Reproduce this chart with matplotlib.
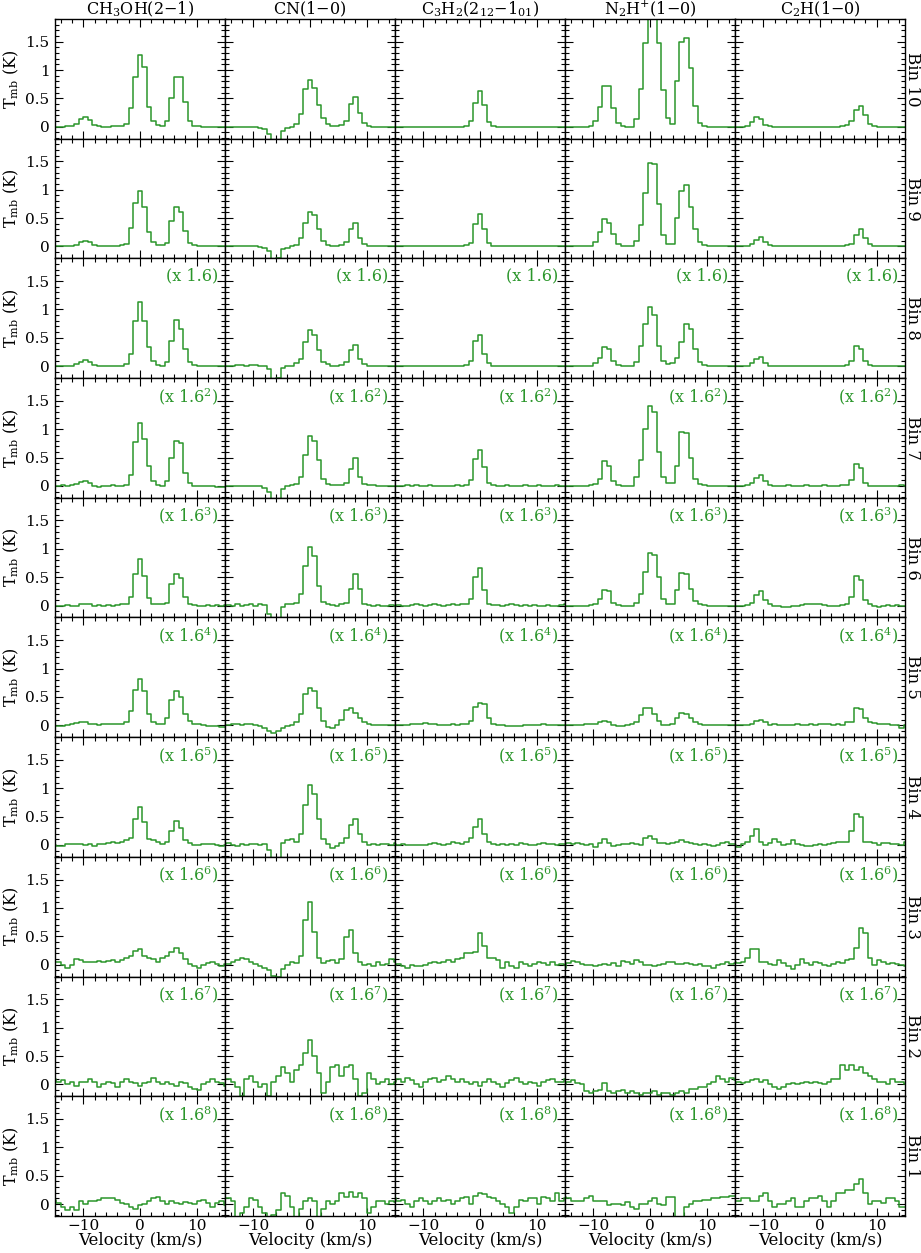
import numpy as np
import matplotlib
matplotlib.use('Agg')
import matplotlib.pyplot as plt
from matplotlib.ticker import MultipleLocator, FuncFormatter

# ---------------- data ----------------
v_start = -15.2   # centre of first channel (km/s)
dv = 0.8          # channel width (km/s)
n_chan = 39

molecules = [r'CH$_3$OH(2$-$1)', r'CN(1$-$0)', r'C$_3$H$_2$(2$_{12}$$-$1$_{01}$)',
             r'N$_2$H$^{+}$(1$-$0)', r'C$_2$H(1$-$0)']
bin_labels = ['Bin 10', 'Bin 9', 'Bin 8', 'Bin 7', 'Bin 6', 'Bin 5', 'Bin 4', 'Bin 3', 'Bin 2', 'Bin 1']
scale_powers = [0, 0, 1, 2, 3, 4, 5, 6, 7, 8]
scale_base = '1.6'

# CH3OH(2-1)
ch3oh_b10 = [0.0,0.0,0.0,0.01,0.02, 0.05,0.14,0.17,0.12,0.04, 0.01,0.0,0.0,0.01,0.01, 0.02,0.05,0.33,0.87,1.27, 1.05,0.35,0.1,0.03,0.02, 0.1,0.5,0.87,0.87,0.44, 0.1,0.02,0.01,0.0,0.0, 0.0,0.0,0.0,0.0]
ch3oh_b9 = [0.0,0.0,0.0,0.0,0.01, 0.03,0.08,0.1,0.08,0.03, 0.01,0.0,0.0,0.01,0.01, 0.02,0.05,0.33,0.76,0.98, 0.69,0.25,0.08,0.03,0.02, 0.06,0.45,0.7,0.6,0.28, 0.07,0.02,0.01,0.0,0.0, 0.0,0.0,0.0,0.0]
ch3oh_b8 = [0.0,0.0,0.0,0.0,0.01, 0.03,0.07,0.11,0.07,0.02, 0.01,0.0,0.0,0.0,0.01, 0.01,0.03,0.22,0.79,1.14, 0.79,0.33,0.1,0.02,0.01, 0.08,0.45,0.82,0.65,0.3, 0.08,0.02,0.01,0.0,0.0, 0.0,0.0,0.0,0.0]
ch3oh_b7 = [0.0,0.0,0.01,0.0,0.01, 0.03,0.06,0.08,0.05,0.0, -0.02,-0.01,0.0,0.01,0.0, -0.01,0.02,0.2,0.78,1.1, 0.82,0.35,0.08,0.01,0.0, 0.08,0.5,0.8,0.75,0.22, 0.05,0.0,0.0,-0.01,-0.01, -0.01,-0.02,-0.02,-0.02]
ch3oh_b6 = [0.0,-0.01,0.0,0.01,-0.01, 0.0,0.02,0.03,0.02,0.0, 0.01,0.0,0.01,0.0,0.01, 0.02,0.03,0.15,0.55,0.82, 0.53,0.13,0.03,0.02,0.02, 0.05,0.38,0.55,0.48,0.15, 0.03,0.01,0.0,0.0,0.01, 0.0,0.01,0.0,0.01]
ch3oh_b5 = [-0.01,-0.02,-0.01,0.0,0.02, 0.04,0.06,0.05,0.03,0.02, 0.01,0.02,0.03,0.02,0.03, 0.02,0.05,0.25,0.62,0.82, 0.6,0.2,0.06,0.03,0.02, 0.12,0.45,0.6,0.5,0.2, 0.08,0.03,0.02,0.0,-0.01, -0.02,-0.02,-0.03,-0.03]
ch3oh_b4 = [0.0,-0.02,-0.01,0.02,0.02, 0.01,0.02,0.0,0.01,-0.01, 0.02,0.02,0.03,0.05,0.04, 0.06,0.08,0.12,0.45,0.67, 0.4,0.1,0.08,0.05,0.02, 0.05,0.25,0.42,0.3,0.08, 0.03,0.0,0.0,0.02,0.02, 0.01,0.0,-0.01,0.0]
ch3oh_b3 = [0.05,0.04,0.0,-0.05,0.0, 0.1,0.08,0.05,0.05,0.05, 0.06,0.05,0.07,0.08,0.05, 0.08,0.12,0.15,0.25,0.28, 0.15,0.12,0.1,0.05,0.12, 0.15,0.22,0.3,0.2,0.1, 0.02,-0.02,-0.06,0.0,0.03, 0.05,0.02,-0.03,0.02]
ch3oh_b2 = [0.1,0.05,0.08,0.0,0.05, -0.02,0.05,0.05,0.1,0.05, -0.05,0.0,0.05,0.02,-0.05, 0.05,0.1,0.05,0.02,-0.03, 0.03,0.05,0.12,0.05,0.0, 0.05,0.0,-0.02,0.05,0.02, -0.05,-0.08,-0.1,0.0,0.05, 0.1,0.05,0.02,-0.02]
ch3oh_b1 = [0.08,0.02,-0.05,-0.1,-0.05, -0.1,0.05,0.0,0.05,0.05, 0.08,0.1,0.1,0.1,0.08, 0.02,0.0,-0.05,-0.08,-0.02, 0.0,0.05,0.1,0.12,0.05, 0.0,0.05,0.02,0.0,0.03, 0.02,0.0,0.05,0.08,0.02, -0.05,0.02,0.05,-0.02]

# CN(1-0)
cn_b10 = [0.0,0.0,0.0,0.0,0.0, 0.0,0.0,-0.01,-0.02,-0.04, -0.12,-0.35,-0.3,-0.08,-0.02, 0.0,0.05,0.22,0.67,0.83, 0.68,0.38,0.16,0.05,0.02, 0.01,0.03,0.1,0.4,0.53, 0.25,0.06,0.01,0.0,0.0, 0.0,0.0,0.0,0.0]
cn_b9 = [0.0,0.0,0.0,0.0,0.0, 0.0,0.0,0.0,-0.01,-0.03, -0.08,-0.25,-0.2,-0.05,-0.02, 0.0,0.03,0.15,0.42,0.6, 0.55,0.3,0.1,0.03,0.01, 0.01,0.02,0.08,0.3,0.41, 0.15,0.04,0.01,0.0,0.0, 0.0,0.0,0.0,0.0]
cn_b8 = [0.0,0.0,0.01,0.02,0.02, 0.01,0.02,0.02,0.01,0.0, -0.05,-0.25,-0.2,-0.03,0.0, 0.01,0.05,0.12,0.42,0.64, 0.55,0.28,0.08,0.03,0.01, 0.01,0.02,0.08,0.28,0.37, 0.12,0.03,0.01,0.0,0.0, 0.0,0.0,0.0,0.0]
cn_b7 = [0.0,0.0,0.0,0.0,0.0, -0.01,0.0,0.0,-0.01,-0.03, -0.1,-0.3,-0.25,-0.06,0.0, 0.01,0.04,0.15,0.55,0.88, 0.8,0.45,0.12,0.03,0.01, 0.01,0.02,0.05,0.3,0.5, 0.15,0.04,0.02,0.01,0.0, 0.0,0.0,0.0,0.0]
cn_b6 = [0.0,0.01,0.0,0.02,0.0, 0.01,0.02,0.0,0.02,0.01, -0.15,-0.35,-0.3,-0.02,0.02, 0.03,0.04,0.2,0.7,1.03, 0.88,0.35,0.06,0.02,0.01, 0.0,0.02,0.05,0.3,0.55, 0.3,0.03,0.01,0.0,0.01, 0.0,0.0,0.01,0.0]
cn_b5 = [0.0,0.0,0.02,0.02,0.01, 0.03,0.02,0.0,-0.02,-0.05, -0.1,-0.14,-0.1,-0.05,-0.02, 0.0,0.05,0.2,0.55,0.65, 0.6,0.3,0.08,-0.03,-0.05, 0.0,0.1,0.27,0.3,0.22, 0.12,0.05,0.03,0.0,0.0, 0.01,0.0,0.0,0.0]
cn_b4 = [0.02,0.03,0.0,-0.01,0.02, 0.0,0.01,0.02,0.0,0.01, -0.08,-0.3,-0.25,0.03,0.08, 0.1,0.05,0.2,0.7,1.05, 0.9,0.45,0.1,0.02,-0.05, -0.02,0.03,0.12,0.35,0.45, 0.2,0.05,0.0,0.02,0.0, 0.01,0.02,0.0,0.03]
cn_b3 = [0.02,0.01,0.05,0.08,0.12, 0.1,0.05,0.02,-0.02,-0.05, -0.1,-0.2,-0.22,-0.08,0.0, 0.05,0.03,0.15,0.78,1.1, 0.58,0.12,0.03,0.06,0.08, 0.03,0.1,0.48,0.62,0.2, 0.05,0.0,0.02,-0.02,0.04, -0.01,0.02,0.1,0.05]
cn_b2 = [0.1,0.1,0.05,-0.05,-0.2, 0.1,0.15,0.05,-0.05,0.0, -0.2,0.05,0.15,0.3,0.2, 0.05,0.25,0.35,0.55,0.78, 0.5,0.2,-0.15,0.05,0.3, 0.35,0.15,0.3,0.35,0.1, -0.2,-0.15,0.2,0.1,0.0, 0.05,0.1,0.0,0.05]
cn_b1 = [0.1,0.1,0.05,-0.25,-0.15, -0.05,0.1,0.08,-0.05,-0.15, -0.25,-0.2,-0.1,0.2,0.15, -0.05,-0.25,-0.08,0.05,0.1, 0.05,-0.25,-0.08,0.05,0.0, 0.05,0.2,0.12,0.22,0.12, 0.2,0.1,-0.15,-0.05,0.05, 0.05,0.0,0.05,0.03]

# C3H2(2_12-1_01)
c3h2_b10 = [0.0,0.0,0.0,0.0,0.0, 0.0,0.0,0.0,0.0,0.0, 0.0,0.0,0.0,0.0,0.0, 0.0,0.02,0.1,0.42,0.63, 0.38,0.08,0.02,0.0,0.0, 0.0,0.0,0.0,0.0,0.0, 0.0,0.0,0.0,0.0,0.0, 0.0,0.0,0.0,0.0]
c3h2_b9 = [0.0,0.0,0.0,0.0,0.0, 0.0,0.0,0.0,0.0,0.0, 0.0,0.0,0.0,0.0,0.0, 0.0,0.02,0.07,0.4,0.57, 0.3,0.06,0.01,0.0,0.0, 0.0,0.0,0.0,0.0,0.0, 0.0,0.0,0.0,0.0,0.0, 0.0,0.0,0.0,0.0]
c3h2_b8 = [0.0,0.0,0.0,0.0,0.0, 0.0,0.0,0.0,0.01,0.0, 0.0,0.0,0.0,0.0,0.0, 0.0,0.02,0.1,0.45,0.55, 0.22,0.05,0.01,0.0,0.0, 0.0,0.0,0.0,0.0,0.0, 0.0,0.0,0.0,0.0,0.0, 0.0,0.0,0.0,0.0]
c3h2_b7 = [0.0,0.0,0.0,0.01,0.0, 0.01,0.0,0.0,0.01,0.0, 0.0,-0.01,0.0,0.0,0.01, 0.0,0.02,0.1,0.48,0.63, 0.33,0.05,0.01,0.0,0.0, 0.01,0.0,0.0,0.0,0.01, 0.0,0.0,0.01,0.0,0.0, 0.0,0.01,0.0,0.0]
c3h2_b6 = [0.0,0.01,0.0,0.0,0.01, 0.02,0.01,0.0,0.01,0.02, 0.01,0.0,0.01,0.02,0.01, 0.02,0.03,0.12,0.5,0.67, 0.27,0.03,0.01,0.01,0.0, 0.01,0.02,0.01,0.0,0.01, 0.0,0.01,0.0,0.0,0.01, 0.0,0.0,0.01,0.02]
c3h2_b5 = [0.0,0.01,0.0,0.01,0.02, 0.02,0.03,0.04,0.03,0.02, 0.01,0.0,0.01,0.02,0.01, 0.02,0.03,0.08,0.33,0.4, 0.38,0.12,0.03,0.01,0.0, -0.01,-0.02,-0.02,-0.01,0.0, 0.01,0.0,0.01,0.02,0.01, 0.0,0.01,0.0,0.0]
c3h2_b4 = [0.02,0.0,0.02,0.0,0.0, 0.0,0.0,0.0,0.02,0.03, 0.02,0.0,0.02,0.05,0.03, 0.02,0.05,0.12,0.32,0.45, 0.2,0.05,0.02,0.0,0.02, 0.0,0.02,0.0,0.03,0.02, 0.0,0.0,0.02,0.03,0.01, 0.02,0.0,0.02,0.01]
c3h2_b3 = [0.0,0.02,-0.03,-0.05,0.0, -0.03,-0.02,0.0,0.03,0.05, 0.03,0.05,0.08,0.05,0.1, 0.12,0.2,0.2,0.22,0.55, 0.33,0.12,0.12,0.08,-0.05, 0.05,-0.02,-0.05,0.05,0.02, -0.03,0.02,0.05,0.03,0.0, 0.05,-0.01,0.02,0.0]
c3h2_b2 = [0.05,0.1,0.05,0.12,0.08, 0.0,-0.05,0.05,0.1,0.12, 0.05,0.08,0.15,0.1,0.05, 0.1,0.05,0.0,0.05,-0.02, 0.05,0.1,0.05,0.0,-0.05, 0.02,0.08,0.12,0.05,0.0, 0.05,0.02,-0.02,0.05,0.08, 0.1,0.05,0.05,0.1]
c3h2_b1 = [0.1,0.05,0.08,0.0,-0.05, 0.05,0.1,0.05,0.0,0.05, 0.1,0.05,0.08,0.0,0.05, 0.1,0.12,0.0,0.15,0.2, 0.18,0.12,0.1,0.05,0.0, -0.05,-0.15,-0.05,0.08,0.05, 0.1,0.1,0.0,0.12,0.1, 0.05,0.2,0.05,0.1]

# N2H+(1-0)
n2hp_b10 = [0.0,0.0,0.0,0.0,0.0, 0.0,0.02,0.1,0.35,0.72, 0.72,0.33,0.07,0.01,0.0, 0.0,0.13,0.66,1.47,2.1, 1.95,1.47,0.65,0.15,0.05, 0.8,1.5,1.57,1.03,0.36, 0.07,0.02,0.0,0.0,0.0, 0.0,0.0,0.0,0.0]
n2hp_b9 = [0.0,0.0,0.0,0.0,0.0, 0.0,0.01,0.08,0.25,0.48, 0.42,0.22,0.04,0.01,0.0, 0.0,0.1,0.38,0.95,1.48, 1.45,0.75,0.2,0.05,0.04, 0.5,0.98,1.08,0.7,0.3, 0.08,0.02,0.0,0.0,0.0, 0.0,0.0,0.0,0.0]
n2hp_b8 = [0.0,0.0,0.0,0.0,0.0, 0.0,0.0,0.05,0.15,0.33, 0.3,0.1,0.02,0.0,0.0, 0.0,0.08,0.35,0.75,1.05, 0.9,0.35,0.1,0.04,0.05, 0.15,0.42,0.75,0.65,0.3, 0.07,0.02,0.0,0.0,0.0, 0.0,0.0,0.0,0.0]
n2hp_b7 = [0.0,0.0,0.0,0.0,0.0, 0.0,0.01,0.03,0.12,0.43, 0.35,0.08,0.01,0.0,0.0, 0.0,0.15,0.45,1.0,1.4, 1.3,0.6,0.15,0.05,0.05, 0.35,0.95,0.93,0.5,0.12, 0.03,0.01,0.0,0.0,0.0, 0.0,0.0,0.0,0.0]
n2hp_b6 = [0.0,0.0,0.0,0.0,0.0, 0.0,0.01,0.03,0.12,0.27, 0.25,0.05,0.01,0.0,0.0, 0.0,0.05,0.2,0.6,0.93, 0.9,0.5,0.12,0.03,0.02, 0.28,0.57,0.55,0.3,0.08, 0.02,0.01,0.0,0.0,0.0, 0.0,0.0,0.0,0.0]
n2hp_b5 = [0.01,0.01,0.0,0.01,0.01, 0.02,0.02,0.03,0.05,0.08, 0.05,0.0,-0.02,-0.01,0.0, 0.02,0.05,0.18,0.3,0.3, 0.2,0.08,0.01,0.0,0.02, 0.12,0.22,0.2,0.12,0.05, 0.02,0.01,0.0,0.0,0.01, 0.01,0.0,0.0,0.01]
n2hp_b4 = [0.02,0.03,0.02,0.04,0.02, 0.0,0.01,-0.03,0.03,0.1, 0.04,-0.01,0.0,0.01,0.02, 0.04,0.02,0.0,0.12,0.15, 0.1,0.03,0.04,0.02,0.03, 0.05,0.08,0.05,0.03,0.02, 0.0,0.02,0.0,-0.01,0.0, 0.03,0.05,0.02,0.02]
n2hp_b3 = [-0.05,0.03,0.06,0.04,0.02, 0.0,0.0,-0.02,0.0,0.02, 0.0,0.03,-0.02,0.07,0.04, 0.02,0.08,0.05,-0.01,0.0, -0.02,0.0,0.02,0.04,0.04, 0.02,0.01,0.03,0.02,0.0, 0.02,-0.02,-0.03,-0.05,0.0, 0.02,0.05,0.02,0.03]
n2hp_b2 = [0.0,0.05,0.08,0.02,0.0, -0.12,-0.15,-0.12,-0.1,0.02, -0.12,-0.15,-0.12,-0.1,-0.15, -0.12,-0.15,-0.18,-0.15,-0.15, -0.12,-0.18,-0.15,-0.15,-0.18, -0.15,-0.12,-0.15,-0.08,-0.08, -0.05,-0.05,0.0,0.05,0.15, 0.1,0.05,0.12,0.08]
n2hp_b1 = [0.12,0.1,0.05,0.05,0.05, 0.1,0.15,0.05,0.05,0.05, -0.02,0.0,0.0,-0.02,0.03, -0.05,-0.08,0.0,0.0,0.05, 0.1,0.0,-0.02,0.12,0.12, -0.3,-0.25,-0.05,0.0,0.05, 0.05,0.08,0.08,0.1,0.1, 0.12,0.12,0.15,0.15]

# C2H(1-0)
c2h_b10 = [0.0,0.0,0.0,0.01,0.08, 0.18,0.14,0.04,0.01,0.0, 0.0,0.0,0.0,0.0,0.0, 0.0,0.0,0.0,0.0,0.0, 0.0,0.0,0.0,0.0,0.01, 0.03,0.1,0.3,0.37,0.2, 0.05,0.01,0.0,0.0,0.0, 0.0,0.0,0.0,0.0]
c2h_b9 = [0.0,0.0,0.0,0.01,0.05, 0.12,0.17,0.08,0.02,0.0, 0.0,0.0,0.0,0.0,0.0, 0.0,0.0,0.0,0.0,0.0, 0.0,0.0,0.0,0.0,0.01, 0.02,0.05,0.2,0.3,0.15, 0.04,0.01,0.0,0.0,0.0, 0.0,0.0,0.0,0.0]
c2h_b8 = [0.0,0.0,0.0,0.01,0.05, 0.13,0.16,0.05,0.01,0.0, 0.0,0.0,0.0,0.0,0.0, 0.0,0.0,0.0,0.0,0.0, 0.0,0.0,0.0,0.0,0.01, 0.02,0.1,0.35,0.3,0.1, 0.02,0.01,0.0,0.0,0.0, 0.0,0.0,0.0,0.0]
c2h_b7 = [0.0,0.0,0.0,0.01,0.05, 0.14,0.2,0.08,0.02,0.0, -0.01,0.0,0.01,0.0,-0.01, 0.0,0.01,0.0,-0.01,0.0, 0.01,0.0,-0.01,0.0,0.01, 0.02,0.1,0.38,0.32,0.05, 0.0,0.0,0.0,0.0,0.0, 0.0,0.0,0.01,0.0]
c2h_b6 = [0.0,0.0,0.0,0.01,0.04, 0.18,0.25,0.1,0.02,0.0, -0.01,-0.02,-0.02,-0.01,0.0, 0.01,0.02,0.03,0.03,0.02, 0.01,0.0,0.0,0.0,0.01, 0.03,0.15,0.52,0.45,0.1, 0.02,-0.01,-0.02,0.0,0.01, 0.0,0.01,0.0,0.0]
c2h_b5 = [0.0,0.0,0.01,0.01,0.02, 0.07,0.1,0.05,0.01,0.02, 0.0,0.01,0.0,0.01,0.02, 0.01,0.0,0.02,0.01,0.02, 0.03,0.02,0.01,0.02,0.01, 0.05,0.05,0.3,0.28,0.12, 0.05,0.04,0.03,0.02,0.03, 0.01,0.0,-0.05,0.0]
c2h_b4 = [0.0,-0.03,0.02,0.05,0.15, 0.28,0.05,0.0,0.03,0.1, 0.05,0.0,0.02,0.08,0.02, 0.0,-0.01,-0.02,0.0,0.02, 0.0,0.02,0.03,0.05,0.05, 0.05,0.25,0.55,0.5,0.05, 0.05,0.04,0.0,0.03,0.03, 0.01,0.02,0.0,0.05]
c2h_b3 = [0.05,0.03,0.05,0.12,0.28, 0.28,0.05,0.05,0.02,0.0, 0.08,0.03,-0.02,-0.08,0.0, 0.1,0.03,0.0,0.05,0.03, 0.0,-0.02,0.02,0.05,0.03, 0.08,0.1,0.3,0.65,0.55, 0.12,0.0,0.08,0.05,0.02, 0.03,0.02,0.0,-0.02]
c2h_b2 = [0.0,0.05,0.02,0.05,0.08, 0.1,0.05,0.08,0.0,-0.05, -0.08,-0.05,0.0,0.02,0.0, 0.03,0.05,0.02,0.05,0.03, 0.0,0.05,0.1,0.1,0.35, 0.25,0.35,0.25,0.3,0.2, 0.15,0.1,0.05,0.05,0.0, 0.1,0.05,0.05,0.0]
c2h_b1 = [0.05,0.05,0.1,0.1,0.05, 0.05,0.15,0.2,0.05,-0.05, 0.0,0.0,0.05,0.1,-0.05, -0.05,0.05,0.1,0.1,0.15, 0.05,-0.05,0.05,0.2,0.2, 0.25,0.25,0.35,0.45,0.2, 0.0,0.05,0.05,0.02,0.1, 0.1,0.05,-0.05,-0.05]

spectra = [
    [ch3oh_b10, cn_b10, c3h2_b10, n2hp_b10, c2h_b10],
    [ch3oh_b9, cn_b9, c3h2_b9, n2hp_b9, c2h_b9],
    [ch3oh_b8, cn_b8, c3h2_b8, n2hp_b8, c2h_b8],
    [ch3oh_b7, cn_b7, c3h2_b7, n2hp_b7, c2h_b7],
    [ch3oh_b6, cn_b6, c3h2_b6, n2hp_b6, c2h_b6],
    [ch3oh_b5, cn_b5, c3h2_b5, n2hp_b5, c2h_b5],
    [ch3oh_b4, cn_b4, c3h2_b4, n2hp_b4, c2h_b4],
    [ch3oh_b3, cn_b3, c3h2_b3, n2hp_b3, c2h_b3],
    [ch3oh_b2, cn_b2, c3h2_b2, n2hp_b2, c2h_b2],
    [ch3oh_b1, cn_b1, c3h2_b1, n2hp_b1, c2h_b1],
]

velocity = v_start + dv * np.arange(n_chan)

# ---------------- style ----------------
plt.rcParams['font.family'] = ['DejaVu Serif']
plt.rcParams['mathtext.fontset'] = 'dejavuserif'

W, H = 921, 1253
fig = plt.figure(figsize=(W / 100, H / 100), dpi=100)
nrows, ncols = 10, 5
axes = fig.subplots(nrows, ncols, sharex=True, sharey=True)
fig.subplots_adjust(left=55 / W, right=905 / W, top=1 - 19 / H, bottom=1 - 1216 / H,
                    wspace=0, hspace=0)

green = '#2b962b'

for r in range(nrows):
    for c in range(ncols):
        ax = axes[r, c]
        y = np.asarray(spectra[r][c], dtype=float)
        assert len(y) == n_chan, (r, c, len(y))
        ax.plot(velocity, y, drawstyle='steps-mid', color=green, lw=1.1)
        ax.set_xlim(-15, 15)
        ax.set_ylim(-0.21, 1.9)
        ax.xaxis.set_major_locator(MultipleLocator(10))
        ax.xaxis.set_minor_locator(MultipleLocator(2))
        ax.yaxis.set_major_locator(MultipleLocator(0.5))
        ax.yaxis.set_minor_locator(MultipleLocator(0.1))
        ax.yaxis.set_major_formatter(FuncFormatter(lambda val, pos: '%g' % val))
        ax.tick_params(which='both', direction='in', top=True, right=True,
                       labelsize=11, width=0.8, colors='black')
        ax.tick_params(which='major', length=5.5)
        ax.tick_params(axis='x', which='major', pad=2.5)
        ax.tick_params(axis='y', which='major', pad=4)
        ax.tick_params(which='minor', length=2.8)
        for sp in ax.spines.values():
            sp.set_linewidth(1.0)
        if c == 0:
            ax.set_ylabel(r'T$_{\rm mb}$ (K)', fontsize=11.5)
            ax.yaxis.set_label_coords(-0.2, 0.5)
        if r == nrows - 1:
            ax.set_xlabel('Velocity (km/s)', fontsize=12, labelpad=-1)
        if r == 0:
            ax.set_title(molecules[c], fontsize=11.5, pad=2)
        p = scale_powers[r]
        if p > 0:
            txt = '(x %s)' % scale_base if p == 1 else r'(x %s$^{%d}$)' % (scale_base, p)
            ax.text(0.96, 0.85, txt, transform=ax.transAxes, ha='right', va='center',
                    fontsize=11.5, color=green)
        if c == ncols - 1:
            ax.text(1.045, 0.5, bin_labels[r], transform=ax.transAxes, rotation=-90,
                    ha='center', va='center', fontsize=12)

fig.savefig('out.png', dpi=100)
